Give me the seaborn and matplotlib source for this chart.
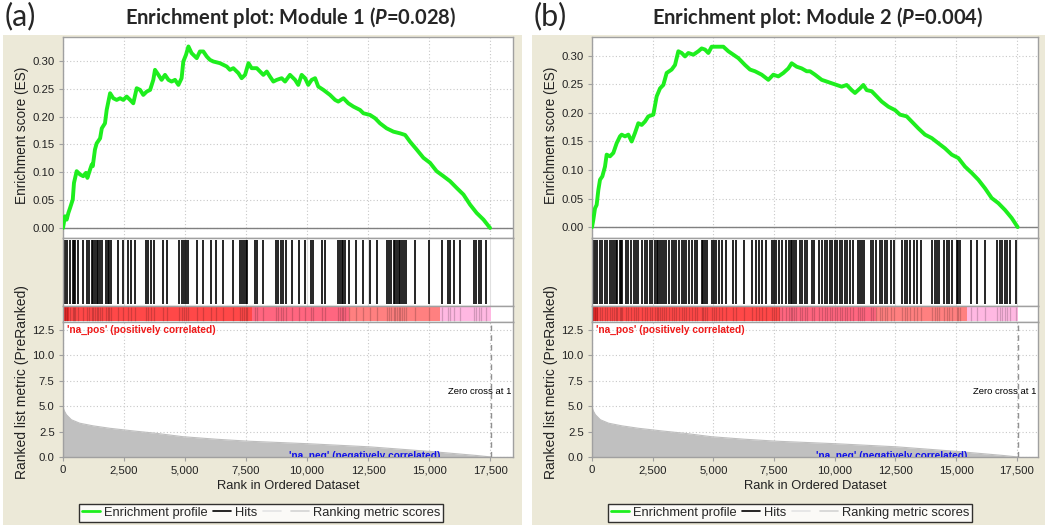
import numpy as np
import seaborn as sns
import matplotlib.pyplot as plt
from matplotlib.patches import Rectangle
from matplotlib.lines import Line2D
from matplotlib.ticker import FuncFormatter

# =========================
# DATA
# =========================
# ranked list metric (same ranked dataset for both modules)
METRIC_RANK = [0, 40, 137, 342, 683, 1229, 1912, 2869, 3825, 4918, 6284, 7650,
               10108, 12567, 15026, 16938, 17550]
METRIC_VAL = [5.0, 4.6, 4.17, 3.67, 3.33, 3.07, 2.83, 2.57, 2.33, 2.0, 1.75, 1.55,
              1.3, 1.0, 0.55, 0.15, 0.0]
ZERO_CROSS = 17550

# Module 1 running enrichment score
ES1_RANK = [0, 80, 150, 220, 290, 400, 450, 560, 700, 830,
            940, 1000, 1110, 1180, 1220, 1310, 1380, 1520, 1590, 1720,
            1790, 1930, 2060, 2200, 2340, 2470, 2610, 2750, 2880, 3020,
            3160, 3290, 3430, 3570, 3700, 3770, 3910, 4040, 4180, 4320,
            4450, 4590, 4730, 4860, 4930, 5040, 5140, 5270, 5480, 5610,
            5750, 5890, 6020, 6160, 6430, 6710, 6840, 6980, 7190, 7320,
            7460, 7600, 7730, 7940, 8210, 8350, 8480, 8620, 8760, 8960,
            9100, 9300, 9510, 9640, 9780, 9920, 10050, 10190, 10330, 10460,
            10670, 10940, 11150, 11280, 11490, 11690, 11900, 12170, 12310, 12580,
            12790, 12990, 13260, 13540, 13810, 14020, 14220, 14490, 14770, 15040,
            15310, 15590, 15860, 16130, 16410, 16680, 16950, 17230, 17500]
ES1_VAL = [0.000, 0.021, 0.015, 0.027, 0.036, 0.051, 0.081, 0.102, 0.096, 0.093,
           0.099, 0.090, 0.105, 0.114, 0.111, 0.141, 0.152, 0.161, 0.179, 0.188,
           0.212, 0.242, 0.233, 0.230, 0.233, 0.230, 0.236, 0.230, 0.224, 0.251,
           0.248, 0.239, 0.245, 0.248, 0.266, 0.284, 0.275, 0.266, 0.275, 0.266,
           0.263, 0.266, 0.257, 0.269, 0.299, 0.311, 0.326, 0.314, 0.305, 0.317,
           0.317, 0.308, 0.302, 0.299, 0.296, 0.290, 0.284, 0.287, 0.278, 0.269,
           0.275, 0.296, 0.287, 0.287, 0.275, 0.281, 0.272, 0.263, 0.266, 0.269,
           0.263, 0.275, 0.266, 0.257, 0.275, 0.269, 0.257, 0.266, 0.269, 0.254,
           0.248, 0.239, 0.230, 0.227, 0.233, 0.224, 0.218, 0.212, 0.206, 0.203,
           0.197, 0.188, 0.179, 0.173, 0.170, 0.167, 0.155, 0.141, 0.126, 0.117,
           0.102, 0.093, 0.084, 0.072, 0.060, 0.042, 0.027, 0.015, 0.000]
HITS1 = [82, 178, 287, 396, 451, 506, 629, 834, 998, 1080, 1189, 1244, 1312, 1380,
         1449, 1517, 1585, 1763, 1831, 1899, 1954, 2269, 2446, 2679, 2774, 2952,
         3403, 3498, 3594, 3731, 4113, 4277, 4769, 4865, 4961, 5043, 5138, 5507,
         5726, 6054, 6273, 6573, 6983, 7257, 7325, 7421, 7503, 7557, 7872, 7940,
         8213, 8733, 8828, 8924, 9033, 9129, 9375, 9676, 9922, 10168, 10264, 10633,
         10742, 11289, 11357, 11425, 11494, 11562, 11726, 11999, 12273, 12587,
         12860, 13270, 13339, 13448, 13544, 13612, 13680, 13749, 13817, 13885,
         13954, 14049, 14432, 14979, 15525, 15771, 15867, 16003, 16276, 16823,
         16919, 17028, 17138, 17329]

# Module 2 running enrichment score
ES2_RANK = [0, 55, 124, 192, 261, 330, 426, 535, 604, 741,
            879, 1016, 1153, 1222, 1359, 1497, 1634, 1771, 1908, 2046,
            2183, 2320, 2526, 2664, 2801, 2938, 3075, 3281, 3419, 3556,
            3693, 3831, 3968, 4174, 4380, 4517, 4654, 4792, 4929, 5204,
            5410, 5616, 5822, 6027, 6302, 6508, 6714, 6989, 7263, 7469,
            7675, 7881, 8087, 8224, 8430, 8636, 8842, 8979, 9185, 9460,
            9666, 9872, 10078, 10284, 10490, 10696, 10833, 11039, 11176, 11314,
            11520, 11726, 11931, 12206, 12481, 12687, 12961, 13167, 13442, 13716,
            13991, 14265, 14540, 14815, 15089, 15364, 15639, 15913, 16188, 16462,
            16737, 17012, 17286, 17533]
ES2_VAL = [0.000, 0.013, 0.033, 0.039, 0.065, 0.083, 0.089, 0.106, 0.127, 0.124,
           0.130, 0.147, 0.159, 0.162, 0.159, 0.162, 0.150, 0.165, 0.182, 0.179,
           0.185, 0.194, 0.197, 0.229, 0.243, 0.249, 0.270, 0.276, 0.284, 0.308,
           0.305, 0.299, 0.305, 0.302, 0.308, 0.313, 0.311, 0.305, 0.316, 0.316,
           0.316, 0.308, 0.302, 0.296, 0.284, 0.276, 0.273, 0.267, 0.258, 0.267,
           0.264, 0.270, 0.278, 0.287, 0.281, 0.278, 0.273, 0.273, 0.267, 0.258,
           0.255, 0.252, 0.249, 0.246, 0.249, 0.240, 0.235, 0.243, 0.249, 0.240,
           0.238, 0.229, 0.220, 0.211, 0.205, 0.197, 0.194, 0.185, 0.173, 0.162,
           0.156, 0.147, 0.138, 0.127, 0.121, 0.106, 0.095, 0.083, 0.068, 0.051,
           0.042, 0.030, 0.016, 0.000]
HITS2 = [41, 124, 220, 316, 426, 535, 631, 728, 837, 906, 975, 1043, 1140, 1194,
         1249, 1387, 1497, 1593, 1730, 1799, 1909, 2073, 2183, 2279, 2375, 2485,
         2595, 2664, 2732, 2801, 2870, 2966, 3062, 3171, 3281, 3377, 3474, 3583,
         3693, 3789, 3885, 3995, 4133, 4242, 4339, 4517, 4586, 4654, 4750, 4929,
         5025, 5121, 5231, 5341, 5533, 5808, 5918, 6261, 6604, 6741, 6879, 7016,
         7153, 7400, 7482, 7565, 7702, 7839, 8004, 8114, 8183, 8251, 8320, 8416,
         8553, 8663, 8773, 8869, 9047, 9144, 9350, 9488, 9584, 9693, 9803, 9899,
         9996, 10105, 10215, 10311, 10407, 10517, 10627, 10764, 10957, 11039,
         11121, 11204, 11478, 11588, 11684, 11863, 11959, 12055, 12165, 12302,
         12440, 12783, 12879, 12989, 13099, 13263, 13401, 13538, 14019, 14115,
         14197, 14293, 14499, 14609, 14705, 14842, 15021, 15076, 15158, 15598,
         15845, 16175, 16696, 16806, 16902, 16998, 17108, 17218, 17451]

# colour bar of the ranked list
BAR_EDGES = [0, 60, 250, 7750, 11700, 15450, 17550]
BAR_COLORS = ["#C00000", "#E82828", "#FF4848", "#FF6680", "#FF8080", "#FFB8E2"]

ES_TICKS = [0.0, 0.05, 0.10, 0.15, 0.20, 0.25, 0.30]
METRIC_TICKS = [0.0, 2.5, 5.0, 7.5, 10.0, 12.5]
RANK_TICKS = [0, 2500, 5000, 7500, 10000, 12500, 15000, 17500]

PANELS = [
    dict(tag="(a)", title=r"Enrichment plot: Module 1 ($P$=0.028)",
         es_rank=ES1_RANK, es_val=ES1_VAL, hits=HITS1,
         left=63, right=513, xmax=18440, es_lim=(-0.018, 0.343), beige=(3, 522),
         neg_x=12380),
    dict(tag="(b)", title=r"Enrichment plot: Module 2 ($P$=0.004)",
         es_rank=ES2_RANK, es_val=ES2_VAL, hits=HITS2,
         left=592, right=1038, xmax=18370, es_lim=(-0.019, 0.333), beige=(532, 1045),
         neg_x=12360),
]

# =========================
# STYLE
# =========================
sns.set_style("white")
plt.rcParams['font.family'] = ['Liberation Sans', 'DejaVu Sans']
plt.rcParams['mathtext.fontset'] = 'custom'
plt.rcParams['mathtext.it'] = 'Lato:italic:bold'
plt.rcParams['mathtext.rm'] = 'Lato:bold'

W, H = 1050, 527
GREEN = "#1EEE1E"
BEIGE = "#ECE9D8"
SPINE = "#A0A0A0"
TXT = "#222222"
GRID = dict(color="#C8C8C8", ls=(0, (1, 2)), lw=0.8)

fig = plt.figure(figsize=(W / 100, H / 100), dpi=100, facecolor="white")


def axes_px(l, t, r, b):
    return fig.add_axes([l / W, 1 - b / H, (r - l) / W, (b - t) / H])


def style_spines(ax):
    for s in ax.spines.values():
        s.set_color(SPINE)
        s.set_linewidth(1.0)


comma = FuncFormatter(lambda v, p: f"{int(v):,}")

# =========================
# PANELS
# =========================
for p in PANELS:
    l, r, xmax = p["left"], p["right"], p["xmax"]
    bl, br = p["beige"]
    fig.patches.append(Rectangle((bl / W, 1 - 525 / H), (br - bl) / W, (525 - 35) / H,
                                 transform=fig.transFigure, facecolor=BEIGE,
                                 edgecolor="none", zorder=-10))

    # --- enrichment score ---
    ax = axes_px(l, 37, r, 238)
    sns.lineplot(x=p["es_rank"], y=p["es_val"], ax=ax, color=GREEN, lw=2.8,
                 sort=False, estimator=None, zorder=3)
    ax.axhline(0, color="#808080", lw=1.0, zorder=2)
    ax.set_xlim(0, xmax)
    ax.set_ylim(*p["es_lim"])
    ax.set_xticks(RANK_TICKS)
    ax.set_xticklabels([])
    ax.set_yticks(ES_TICKS)
    ax.yaxis.set_major_formatter(FuncFormatter(lambda v, q: f"{v:.2f}"))
    ax.tick_params(axis="x", length=0)
    ax.tick_params(axis="y", length=3, width=0.8, color=SPINE, labelsize=8.2, pad=3,
                   labelcolor=TXT, left=True)
    ax.grid(True, **GRID)
    style_spines(ax)

    # --- hits ---
    ax = axes_px(l, 238, r, 306)
    ax.vlines(p["hits"], 0.03, 0.97, color="black", lw=1.2, snap=True)
    ax.set_xlim(0, xmax)
    ax.set_ylim(0, 1)
    ax.set_xticks(RANK_TICKS)
    ax.set_yticks([])
    ax.tick_params(axis="x", length=0, labelbottom=False)
    ax.grid(True, axis="x", color="#E0E0E0", lw=0.8)
    style_spines(ax)

    # --- colour bar ---
    ax = axes_px(l, 306, r, 322)
    for e0, e1, c in zip(BAR_EDGES[:-1], BAR_EDGES[1:], BAR_COLORS):
        ax.axvspan(e0, e1, ymin=0.04, ymax=0.96, color=c, lw=0)
    ax.vlines(p["hits"], 0.04, 0.96, color="black", alpha=0.18, lw=0.9)
    ax.set_xlim(0, xmax)
    ax.set_ylim(0, 1)
    ax.set_xticks([])
    ax.set_yticks([])
    style_spines(ax)

    # --- ranked list metric ---
    ax = axes_px(l, 322, r, 457)
    ax.fill_between(METRIC_RANK, METRIC_VAL, 0, color="#C0C0C0", lw=0, zorder=2)
    sns.lineplot(x=METRIC_RANK, y=METRIC_VAL, ax=ax, color="#BEBEBE", lw=0.8,
                 sort=False, estimator=None, zorder=2)
    ax.axvline(ZERO_CROSS, color="#909090", ls=(0, (4, 3)), lw=1.0, zorder=3)
    ax.set_xlim(0, xmax)
    ax.set_ylim(0, 13.3)
    ax.set_xticks(RANK_TICKS)
    ax.xaxis.set_major_formatter(comma)
    ax.set_yticks(METRIC_TICKS)
    ax.yaxis.set_major_formatter(FuncFormatter(lambda v, q: f"{v:.1f}"))
    ax.tick_params(axis="both", length=3, width=0.8, color=SPINE, labelsize=8.2, pad=3,
                   labelcolor=TXT, left=True, bottom=True)
    ax.grid(True, **GRID)
    style_spines(ax)
    ax.text(150, 12.5, "'na_pos' (positively correlated)", color="#F01818",
            fontsize=7.3, fontweight="bold", ha="left", va="center")
    ax.text(p["neg_x"], 0.15, "'na_neg' (negatively correlated)", color="#1010E8",
            fontsize=7.3, fontweight="bold", ha="center", va="center", clip_on=True)
    ax.text(0.997, 6.5, "Zero cross at 1", color="black", fontsize=6.8,
            ha="right", va="center", transform=ax.get_yaxis_transform())

    # --- labels ---
    cx = (l + r) / 2
    fig.text(cx / W, 1 - 486 / H, "Rank in Ordered Dataset", ha="center",
             va="center", fontsize=9.3, color=TXT)
    fig.text((l - 41) / W, 1 - 135 / H, "Enrichment score (ES)", rotation=90,
             ha="center", va="center", fontsize=9.8, color=TXT)
    fig.text((l - 41) / W, 1 - 382 / H, "Ranked list metric (PreRanked)", rotation=90,
             ha="center", va="center", fontsize=10, color=TXT)
    fig.text((cx + 3) / W, 1 - 18 / H, p["title"], ha="center", va="center",
             fontsize=14.5, fontweight="bold", family="Lato")
    fig.text((bl + 2) / W, 1 - 16 / H, p["tag"], ha="left", va="center",
             fontsize=22, family="Lato")

    # --- legend ---
    handles = [Line2D([], [], color=GREEN, lw=2),
               Line2D([], [], color="black", lw=1.2),
               Line2D([], [], color="#E4E4E4", lw=1.2),
               Line2D([], [], color="#D4D4D4", lw=1.2)]
    labels = ["Enrichment profile", "Hits", "", "Ranking metric scores"]
    leg = fig.legend(handles, labels, loc="center",
                     bbox_to_anchor=((l + 198) / W, 1 - 513 / H),
                     ncol=4, frameon=True, fancybox=False, edgecolor="black",
                     fontsize=9.3, handlelength=1.4, handletextpad=0.3,
                     columnspacing=0.45, borderpad=0.25)
    leg.get_frame().set_linewidth(1.0)

fig.savefig("out.png", dpi=100, facecolor="white")
